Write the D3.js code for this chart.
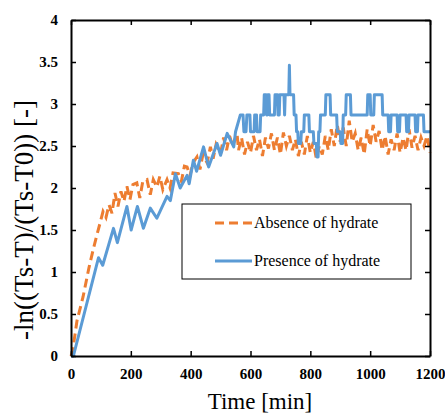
<!DOCTYPE html>
<html lang="en">
<head>
<meta charset="UTF-8">
<title>Absence vs presence of hydrate</title>
<script src="https://cdn.jsdelivr.net/npm/d3@7/dist/d3.min.js"></script>
<style>
  body { margin: 0; background: #fff; }
  text { font-family: "Liberation Serif", "Times New Roman", serif; }
</style>
</head>
<body>
<svg id="chart" width="445" height="414"></svg>
<script>
// tick labels
var xTicks = [0, 200, 400, 600, 800, 1000, 1200];
var yTicks = [0, 0.5, 1, 1.5, 2, 2.5, 3, 3.5, 4];

// absence of hydrate (orange, dashed)
var absenceTime = [0, 5, 20, 40, 60, 75, 85, 97, 107, 117, 127, 137, 147, 157, 167, 177, 187, 197, 207, 220, 230, 240, 254, 265, 275, 287, 297, 307, 321, 331, 341, 359, 369, 379, 388, 398, 408, 421, 431, 441, 455, 466, 475, 485, 500,
  510, 520, 530, 540, 555, 560, 570, 580, 590, 600, 610, 620, 630, 640, 650, 660, 670, 680, 690, 700, 710, 720, 730, 740, 750, 760, 770, 780, 790, 800,
  810, 820, 830, 840, 850, 860, 870, 880, 890, 900, 910, 920, 930, 940, 950, 960, 970, 980, 990, 1000, 1010, 1020, 1030, 1040, 1050, 1060, 1070, 1080,
  1090, 1100, 1110, 1120, 1130, 1140, 1150, 1160, 1170, 1180, 1190, 1200];
var absenceValue = [0, 0.05, 0.42, 0.7, 1.05, 1.28, 1.42, 1.58, 1.72, 1.65, 1.8, 1.7, 1.94, 1.78, 1.96, 1.84, 2.02, 1.86, 2.04, 2.06, 1.88, 2.08, 2.1, 1.92, 2.1, 2.01, 2.14, 1.98, 2.1, 2.0, 2.18, 2.17, 2.08, 2.26, 2.25, 2.15, 2.3, 2.37, 2.22, 2.4, 2.3, 2.49, 2.35, 2.52, 2.41,
  2.6, 2.45, 2.62, 2.5, 2.65, 2.45, 2.6, 2.4, 2.55, 2.42, 2.62, 2.45, 2.58, 2.38, 2.6, 2.47, 2.65, 2.45, 2.6, 2.4, 2.66, 2.5, 2.62, 2.45, 2.58, 2.38, 2.55, 2.4, 2.62, 2.42,
  2.55, 2.35, 2.5, 2.4, 2.62, 2.45, 2.7, 2.5, 2.75, 2.55, 2.72, 2.5, 2.8, 2.55, 2.65, 2.45, 2.6, 2.4, 2.7, 2.5, 2.75, 2.55, 2.68, 2.45, 2.62, 2.4, 2.58, 2.45,
  2.65, 2.42, 2.6, 2.45, 2.7, 2.48, 2.62, 2.45, 2.6, 2.5, 2.62, 2.42];

// presence of hydrate (blue, solid)
var presenceTime = [0, 8, 92, 106, 142, 155, 187, 201, 222, 242, 265, 287, 321, 332, 349, 365, 388, 395, 409, 420, 443, 460, 488, 500, 522, 544, 550, 566,
  575, 578, 585, 588, 598, 600, 612, 614, 620, 622, 632, 634, 644, 646, 652, 654, 656, 658, 662, 664, 680, 682, 690, 692, 696, 698, 712, 714, 716,
  728, 730, 732, 744, 746, 752, 754, 758, 760, 768, 770, 778, 780, 795, 797, 810, 812, 820, 822, 826, 828, 832, 834, 850, 852, 866, 868, 888, 890,
  900, 902, 908, 910, 918, 920, 934, 936, 990, 992, 1000, 1002, 1012, 1014, 1040, 1042, 1060, 1062, 1068, 1070, 1090, 1092, 1098, 1100, 1120, 1122,
  1128, 1130, 1150, 1152, 1158, 1160, 1178, 1180, 1200];
var presenceValue = [0, 0, 1.17, 1.08, 1.52, 1.35, 1.78, 1.5, 1.78, 1.52, 1.76, 1.64, 1.9, 1.85, 2.17, 2.0, 2.15, 2.05, 2.33, 2.2, 2.49, 2.25, 2.53, 2.39, 2.65, 2.49, 2.67, 2.87,
  2.87, 2.67, 2.67, 2.87, 2.87, 2.67, 2.67, 2.87, 2.87, 2.67, 2.67, 2.87, 2.87, 3.11, 3.11, 2.87, 2.87, 3.11, 3.11, 2.87, 2.87, 3.11, 3.11, 2.87, 2.87, 3.11, 3.11, 2.87, 3.11,
  3.11, 3.46, 3.11, 3.11, 2.87, 2.87, 2.67, 2.67, 2.53, 2.53, 2.67, 2.67, 2.87, 2.87, 2.67, 2.67, 2.53, 2.53, 2.37, 2.37, 2.67, 2.67, 2.87, 2.87, 3.11, 3.11, 2.87, 2.87, 2.67,
  2.67, 2.53, 2.53, 2.87, 2.87, 3.11, 3.11, 2.87, 2.87, 3.11, 3.11, 2.87, 2.87, 3.11, 3.11, 2.87, 2.87, 2.67, 2.67, 2.87, 2.87, 2.67, 2.67, 2.87, 2.87, 2.67,
  2.67, 2.87, 2.87, 2.67, 2.67, 2.87, 2.87, 2.67, 2.67];

var seriesNames = ["Absence of hydrate", "Presence of hydrate"];
var colors = ["#ED7D31", "#5B9BD5"];

var svg = d3.select("#chart"),
    mLeft = 71, mRight = 430, mTop = 20, mBottom = 356;

var x = d3.scaleLinear().domain([0, 1200]).range([mLeft, mRight]);
var y = d3.scaleLinear().domain([0, 4]).range([mBottom, mTop]);

function pts(t, v) { return t.map(function(d, i) { return [d, v[i]]; }); }

var line = d3.line().x(function(d) { return x(d[0]); }).y(function(d) { return y(d[1]); });

var plot = svg.append("g");
plot.append("path")
    .attr("d", line(pts(absenceTime, absenceValue)))
    .attr("fill", "none").attr("stroke", colors[0]).attr("stroke-width", 3)
    .attr("stroke-dasharray", "9,5");
plot.append("path")
    .attr("d", line(pts(presenceTime, presenceValue)))
    .attr("fill", "none").attr("stroke", colors[1]).attr("stroke-width", 3)
    .attr("stroke-linejoin", "round");

// axes, ticks inward on all four sides
var fmt = d3.format("");
var xb = svg.append("g").attr("transform", "translate(0," + mBottom + ")")
    .call(d3.axisBottom(x).tickValues(xTicks).tickFormat(fmt).tickSizeInner(-5).tickSizeOuter(0).tickPadding(12));
var xt = svg.append("g").attr("transform", "translate(0," + mTop + ")")
    .call(d3.axisTop(x).tickValues(xTicks).tickSizeInner(-5).tickSizeOuter(0).tickFormat(""));
var yl = svg.append("g").attr("transform", "translate(" + mLeft + ",0)")
    .call(d3.axisLeft(y).tickValues(yTicks).tickFormat(fmt).tickSizeInner(-5).tickSizeOuter(0).tickPadding(13));
var yr = svg.append("g").attr("transform", "translate(" + mRight + ",0)")
    .call(d3.axisRight(y).tickValues(yTicks).tickSizeInner(-5).tickSizeOuter(0).tickFormat(""));

[xb, xt, yl, yr].forEach(function(g) {
  g.selectAll(".domain").attr("stroke", "#000").attr("stroke-width", 2);
  g.selectAll(".tick line").attr("stroke", "#000").attr("stroke-width", 1.5);
  g.selectAll(".tick text").attr("fill", "#000")
    .style("font-family", "'Liberation Serif', serif")
    .style("font-size", "15px").style("font-weight", "bold");
});

// axis titles
svg.append("text")
    .attr("x", 260).attr("y", 409)
    .attr("text-anchor", "middle")
    .style("font-size", "23px")
    .text("Time [min]");
var yTitle = svg.append("text")
    .attr("transform", "translate(33,220) rotate(-90)")
    .attr("text-anchor", "middle")
    .style("font-size", "22px")
    .text("-ln((Ts-T)/(Ts-T0)) [-]");
// fit the rotated title to the length it has in the reference
var len = yTitle.node().getComputedTextLength();
yTitle.style("font-size", (22 * 240 / len) + "px");

// legend
var lg = svg.append("g");
lg.append("rect")
    .attr("x", 182).attr("y", 204).attr("width", 229).attr("height", 75)
    .attr("fill", "#fff").attr("stroke", "#000").attr("stroke-width", 1);
seriesNames.forEach(function(name, i) {
  var ly = 223 + i * 38;
  lg.append("line")
      .attr("x1", 215).attr("x2", 252).attr("y1", ly).attr("y2", ly)
      .attr("stroke", colors[i]).attr("stroke-width", 3)
      .attr("stroke-dasharray", i === 0 ? "9,5" : null);
  lg.append("text")
      .attr("x", 254).attr("y", ly + 5)
      .style("font-size", "16px")
      .text(name);
});
</script>
</body>
</html>
